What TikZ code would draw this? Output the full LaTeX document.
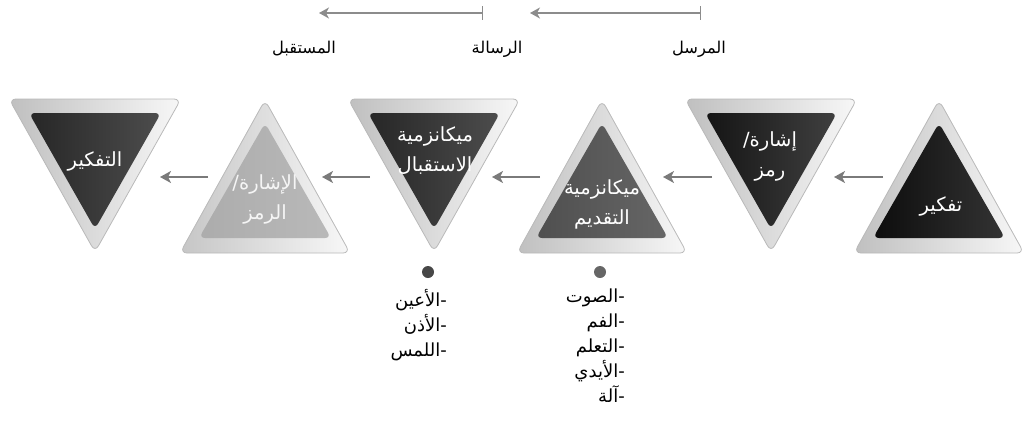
\documentclass[tikz,border=0pt]{standalone}
\usepackage{fontspec}
\newfontfamily\arabicfont[Script=Arabic]{DejaVu Sans}
\TeXXeTstate=1
\usetikzlibrary{arrows.meta}
\definecolor{arrowgray}{HTML}{7A7A7A}
\definecolor{toparrow}{HTML}{8C8C8C}
\newcommand\mytriup[4]{% center x, inner left, inner right, outer left
  \begin{scope}[shift={(#1,0)}]
    \shade[left color=#4, right color=gray!6, draw=gray!55, line width=0.8pt, rounded corners=7pt]
      (0,100) -- (85,253) -- (-85,253) -- cycle;
    \shade[left color=#2, right color=#3, rounded corners=6pt]
      (0,123) -- (66,238) -- (-66,238) -- cycle;
  \end{scope}}
\newcommand\mytridown[4]{%
  \begin{scope}[shift={(#1,0)}]
    \shade[left color=#4, right color=gray!6, draw=gray!55, line width=0.8pt, rounded corners=7pt]
      (-86,99) -- (86,99) -- (0,252) -- cycle;
    \shade[left color=#2, right color=#3, rounded corners=6pt]
      (-66,113) -- (66,113) -- (0,229) -- cycle;
  \end{scope}}
\begin{document}
\begin{tikzpicture}[x=1pt,y=-1pt,
  tritext/.style={text=white, font=\arabicfont\fontsize{19.5}{30}\selectfont, align=center, inner sep=0pt},
  toplabel/.style={text=black, font=\arabicfont\fontsize{16.3}{20}\selectfont, inner sep=0pt},
  listtext/.style={text=black, font=\arabicfont\fontsize{18}{25}\selectfont, align=right, inner sep=0pt, anchor=north east},
  flow/.style={draw=arrowgray, line width=1.8pt, -{Stealth[length=11pt,width=12pt,inset=3pt]}},
  topflow/.style={draw=toparrow, line width=1.2pt, {Bar[width=14pt]}-{Stealth[length=10pt,width=11pt,inset=3pt]}},
  bullet/.style={circle, inner sep=0pt, minimum size=12pt}]
\useasboundingbox (0,0) rectangle (1025,424);

% triangles
\mytriup{939}{black!95}{black!80}{gray!50}
\mytridown{771}{black!92}{black!75}{gray!50}
\mytriup{602}{gray!62!black}{gray!50!black!80}{gray!50}
\mytridown{434}{black!85}{black!70}{gray!50}
\mytriup{265}{gray!65}{gray!55}{gray!45}
\mytridown{95}{black!85}{black!70}{gray!50}

% texts
\node[tritext] (t1) at (941,206) {\beginR تفكير\endR};
\node[tritext] (t2) at (770,156) {\beginR إشارة/\endR\\\beginR رمز\endR};
\node[tritext] (t3) at (602,204) {\beginR ميكانزمية\endR\\\beginR التقديم\endR};
\node[tritext] (t4) at (435,151) {\beginR ميكانزمية\endR\\\beginR الاستقبال\endR};
\node[tritext, text=gray!8] (t5) at (265,199) {\beginR الإشارة/\endR\\\beginR الرمز\endR};
\node[tritext] (t6) at (95,161) {\beginR التفكير\endR};

% flow arrows
\coordinate (a1s) at (883,177); \coordinate (a1e) at (834,177);
\coordinate (a2s) at (712,177); \coordinate (a2e) at (663,177);
\coordinate (a3s) at (540,177); \coordinate (a3e) at (492,177);
\coordinate (a4s) at (370,177); \coordinate (a4e) at (322,177);
\coordinate (a5s) at (208,177); \coordinate (a5e) at (160,177);
\draw[flow] (a1s) -- (a1e);
\draw[flow] (a2s) -- (a2e);
\draw[flow] (a3s) -- (a3e);
\draw[flow] (a4s) -- (a4e);
\draw[flow] (a5s) -- (a5e);

% top arrows
\coordinate (b1s) at (701,13); \coordinate (b1e) at (530,13);
\coordinate (b2s) at (483,13); \coordinate (b2e) at (319,13);
\draw[topflow] (b1s) -- (b1e);
\draw[topflow] (b2s) -- (b2e);

\node[toplabel] (l1) at (699,49) {\beginR المرسل\endR};
\node[toplabel] (l2) at (497,49) {\beginR الرسالة\endR};
\node[toplabel] (l3) at (304,49) {\beginR المستقبل\endR};

% bullets and lists
\node[bullet, fill=gray!80!black] (d1) at (600,272) {};
\node[bullet, fill=black!72] (d2) at (428,272) {};
\node[listtext] (list1) at (625,289) {\beginR -الصوت\endR\\\beginR -الفم\endR\\\beginR -التعلم\endR\\\beginR -الأيدي\endR\\\beginR -آلة\endR};
\node[listtext] (list2) at (447,289) {\beginR -الأعين\endR\\\beginR -الأذن\endR\\\beginR -اللمس\endR};
\end{tikzpicture}
\end{document}
